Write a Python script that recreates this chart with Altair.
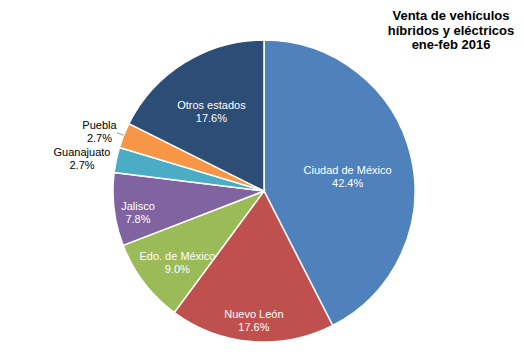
import altair as alt
import pandas as pd

estados = ["Ciudad de México", "Nuevo León", "Edo. de México", "Jalisco",
           "Guanajuato", "Puebla", "Otros estados"]
porcentajes = [42.4, 17.6, 9.0, 7.8, 2.7, 2.7, 17.6]
colores = ["#4F81BD", "#C0504D", "#9BBB59", "#8064A2", "#4BACC6", "#F79646", "#2C4D75"]
titulo = ["Venta de vehículos", "híbridos y eléctricos", "ene-feb 2016"]

df = pd.DataFrame({"estado": estados, "pct": porcentajes, "idx": list(range(len(estados)))})

CX, CY, R = 256, 183, 151
FONT = "Liberation Sans"

base = alt.Chart(df).transform_joinaggregate(
    total="sum(pct)"
).transform_window(
    cum="sum(pct)", sort=[alt.SortField("idx", order="ascending")]
).transform_calculate(
    mid="2*PI*(datum.cum - datum.pct/2)/datum.total",
    label="[datum.estado, format(datum.pct, '.1f') + '%']"
)

pie = alt.Chart(df).mark_arc(stroke="white", strokeWidth=1.5, outerRadius=R).encode(
    theta=alt.Theta("pct:Q", stack=True),
    order=alt.Order("idx:Q", sort="ascending"),
    color=alt.Color("estado:N", scale=alt.Scale(domain=estados, range=colores), legend=None),
    x=alt.value(CX), y=alt.value(CY),
)

# label radius and color for each slice (layout, not data)
label_style = {
    "Ciudad de México": (86, "white"),
    "Nuevo León": (124, "white"),
    "Edo. de México": (109, "white"),
    "Jalisco": (127, "white"),
    "Guanajuato": (186, "black"),
    "Puebla": (177, "black"),
    "Otros estados": (100, "white"),
}

layers = [pie]
for name, (rad, col) in label_style.items():
    layers.append(
        base.transform_filter(alt.datum.estado == name).mark_text(
            font=FONT, fontSize=11, lineHeight=13, color=col,
            align="center", baseline="middle", radius=rad
        ).encode(
            theta=alt.Theta("mid:Q", scale=None),
            x=alt.value(CX), y=alt.value(CY),
            text="label:N",
        )
    )

# leader line for Puebla
leader = base.transform_filter(alt.datum.estado == "Puebla").transform_calculate(
    t1="datum.mid - 0.004", t2="datum.mid + 0.004"
).mark_arc(color="#A6A6A6", radius=158, radius2=151).encode(
    theta=alt.Theta("t1:Q", scale=None),
    theta2="t2:Q",
    x=alt.value(CX), y=alt.value(CY),
)
layers.append(leader)

title = alt.Chart(pd.DataFrame({"t": [0]})).mark_text(
    text=titulo, font=FONT, fontSize=13, fontWeight="bold", lineHeight=14.5,
    align="center", baseline="alphabetic", color="black"
).encode(x=alt.value(443), y=alt.value(12))
layers.append(title)

chart = alt.layer(*layers).properties(
    width=508, height=340,
    autosize=alt.AutoSizeParams(type="none"),
    padding=0,
    background="white",
).configure_view(stroke=None)

chart.save("out.html", embed_options={"renderer": "svg", "actions": False})
